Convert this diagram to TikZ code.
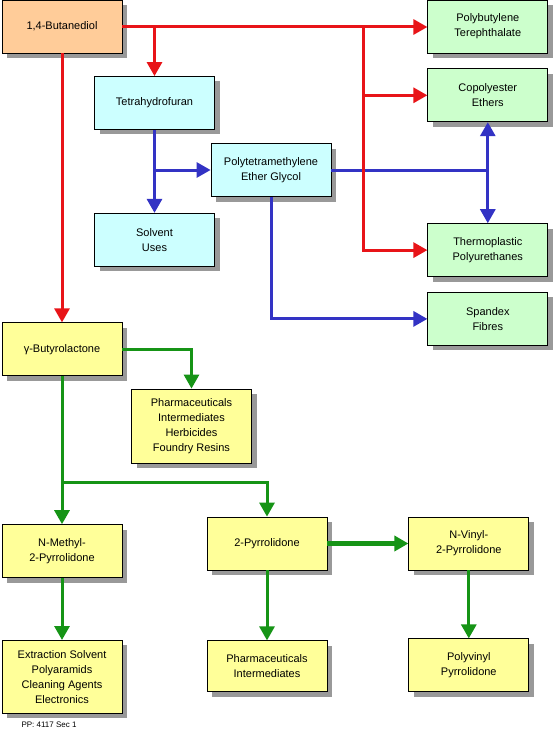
\documentclass[tikz,border=0pt]{standalone}
\usepackage{fontspec}
\setmainfont{Liberation Sans}
\usetikzlibrary{arrows.meta, positioning, shadows}

\definecolor{bdoorange}{RGB}{255,204,153}
\definecolor{thfcyan}{RGB}{204,255,255}
\definecolor{polygreen}{RGB}{204,255,204}
\definecolor{gblyellow}{RGB}{255,255,153}
\definecolor{arrred}{RGB}{232,20,24}
\definecolor{arrblue}{RGB}{51,51,196}
\definecolor{arrgreen}{RGB}{22,148,22}

\begin{document}
\begin{tikzpicture}[
    x=1pt, y=-1pt,
    block/.style={rectangle, draw, line width=0.8pt, minimum width=120pt, minimum height=53pt, inner sep=2pt, align=center, font=\fontsize{11}{15}\selectfont, drop shadow={shadow xshift=5pt, shadow yshift=-5pt, fill=black!40, opacity=1}},
    line/.style={draw, line width=3pt, -{Triangle[length=14pt, width=15pt]}},
    twoway/.style={draw, line width=3pt, {Triangle[length=14pt, width=15pt]}-{Triangle[length=14pt, width=15pt]}},
    wire/.style={draw, line width=3pt}
]
\useasboundingbox (0,0) rectangle (554,733);
% Nodes
\node [block, fill=bdoorange] (bdo) at (62,26.5) {1,4-Butanediol};
\node [block, fill=polygreen, right=305pt of bdo] (pbt) {Polybutylene\\Terephthalate};
\node [block, fill=polygreen, below=15pt of pbt] (cope) {Copolyester\\Ethers};
\node [block, fill=polygreen, below=101pt of cope] (tpu) {Thermoplastic\\Polyurethanes};
\node [block, fill=polygreen, below=15pt of tpu] (spx) {Spandex\\Fibres};

\node [block, fill=thfcyan] (thf) at (154.5,103) {Tetrahydrofuran};
\node [block, fill=thfcyan, below=83pt of thf] (solv) {Solvent\\Uses};
\node [block, fill=thfcyan] (ptmeg) at (271,170) {Polytetramethylene\\Ether Glycol};

\node [block, fill=gblyellow, below=269pt of bdo] (gbl) {γ-Butyrolactone};
\node [block, fill=gblyellow, minimum height=74pt] (pharm) at (191.5,426) {Pharmaceuticals\\Intermediates\\Herbicides\\Foundry Resins};
\node [block, fill=gblyellow, below=148pt of gbl] (nmp) {N-Methyl-\\2-Pyrrolidone};
\node [block, fill=gblyellow, minimum height=73pt, below=62pt of nmp] (extr) {Extraction Solvent\\Polyaramids\\Cleaning Agents\\Electronics};
\node [block, fill=gblyellow] (pyr) at (267,543.5) {2-Pyrrolidone};
\node [block, fill=gblyellow, right=81pt of pyr] (nvp) {N-Vinyl-\\2-Pyrrolidone};
\node [block, fill=gblyellow, minimum height=51pt, below=70pt of pyr] (pint) {Pharmaceuticals\\Intermediates};
\node [block, fill=gblyellow, below=68pt of nvp] (pvp) {Polyvinyl\\Pyrrolidone};

\node [anchor=west, font=\fontsize{8}{9}\selectfont] (ref) at (18,725) {PP: 4117 Sec 1};

\coordinate (redsplit) at (363,27);
\coordinate (gblsplit) at (62,482);

% Edges
\path [line, draw=arrblue] (thf) -- (solv);
\path [line, draw=arrblue] (thf.south |- ptmeg.west) -- (ptmeg.west);
\path [wire, draw=arrblue] (ptmeg.east) -- (cope.south |- ptmeg.east);
\path [twoway, draw=arrblue] (cope) -- (tpu);
\path [line, draw=arrblue] (ptmeg) |- (spx);

\path [line, draw=arrred] (bdo.east |- redsplit) -- (pbt.west |- redsplit);
\path [line, draw=arrred] (thf.north |- redsplit) -- (thf.north);
\path [line, draw=arrred] (redsplit) |- (tpu.west);
\path [line, draw=arrred] (redsplit |- cope.west) -- (cope.west);
\path [line, draw=arrred] (bdo) -- (gbl);

\path [line, draw=arrgreen] (gbl.east) -| (pharm.north);
\path [line, draw=arrgreen] (gbl) -- (nmp);
\path [line, draw=arrgreen] (gblsplit) -| (pyr.north);
\path [line, draw=arrgreen] (nmp) -- (extr);
\path [line, draw=arrgreen, line width=5pt] (pyr) -- (nvp);
\path [line, draw=arrgreen] (pyr) -- (pint);
\path [line, draw=arrgreen] (nvp) -- (pvp);
\end{tikzpicture}
\end{document}
